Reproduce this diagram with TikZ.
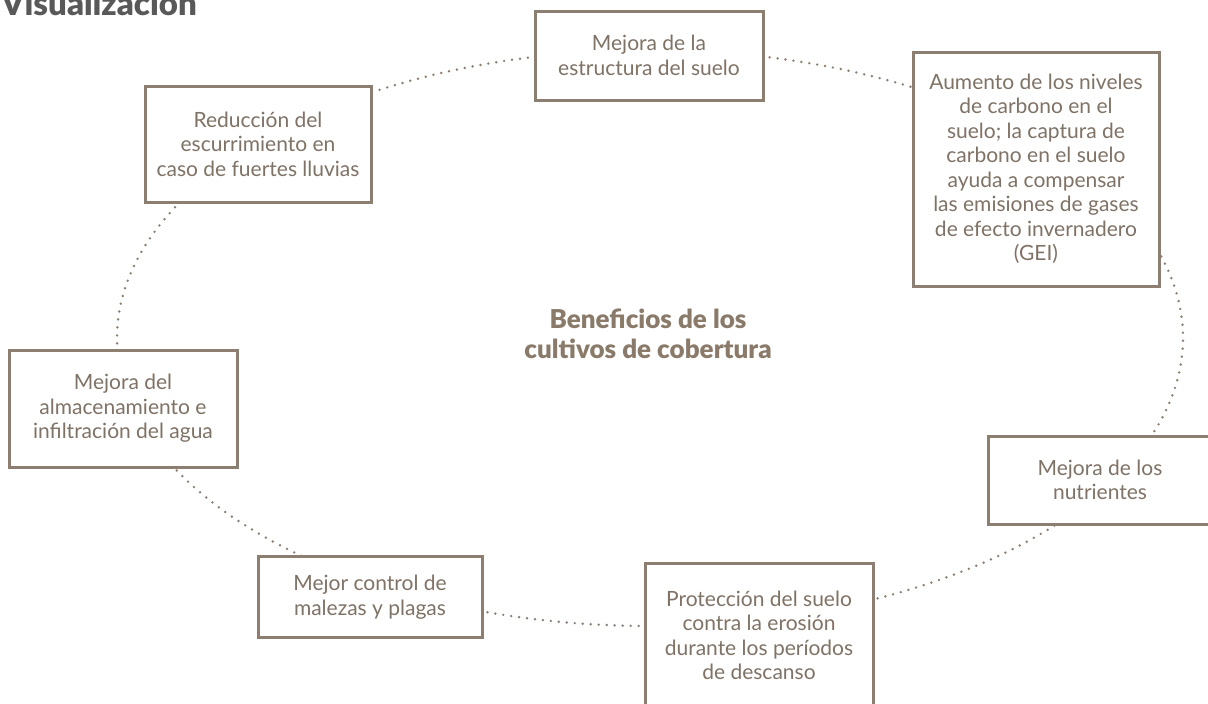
\documentclass[tikz,border=0pt]{standalone}
\usepackage{fontspec}
\setmainfont{Lato}
\newfontfamily\heavy{Lato Black}
\usetikzlibrary{calc}
\definecolor{boxc}{HTML}{8C7E71}
\definecolor{txtc}{HTML}{7F7266}
\definecolor{ttlc}{HTML}{8A7A6A}
\definecolor{headc}{HTML}{595959}
\begin{document}
\begin{tikzpicture}[x=1pt,y=1pt,
  benefit/.style={draw=boxc, line width=3pt, fill=white, text=txtc, align=center,
    font=\fontsize{21}{24.5}\selectfont, inner sep=0pt},
  link/.style={draw=boxc, line width=2.7pt, line cap=round, dash pattern=on 0pt off 8pt}]
\useasboundingbox (0,0) rectangle (1208,-704);
\clip (0,0) rectangle (1208,-704);
\coordinate (C) at (650,-338);
\foreach \n/\a in {pE/90, pA/45, pN/-30, pP/-80, pM/-120, pL/-165, pR/-220}
  \coordinate (\n) at ($(C)+(\a:533pt and 288pt)$);
% connectors (arcs of the cycle)
\draw[link] (pE) arc[start angle=90, end angle=45, x radius=533pt, y radius=288pt];
\draw[link] (pA) arc[start angle=45, end angle=-30, x radius=533pt, y radius=288pt];
\draw[link] (pN) arc[start angle=-30, end angle=-80, x radius=533pt, y radius=288pt];
\draw[link] (pP) arc[start angle=-80, end angle=-120, x radius=533pt, y radius=288pt];
\draw[link] (pM) arc[start angle=-120, end angle=-165, x radius=533pt, y radius=288pt];
\draw[link] (pL) arc[start angle=-165, end angle=-220, x radius=533pt, y radius=288pt];
\draw[link] (pR) arc[start angle=140, end angle=90, x radius=533pt, y radius=288pt];
% boxes
\node[benefit, minimum width=228pt, minimum height=89pt] (estr) at (649,-55.5)
  {Mejora de la\\estructura del suelo};
\node[benefit, minimum width=246pt, minimum height=234pt] (aum) at (1036,-169)
  {Aumento de los niveles\\de carbono en el\\suelo; la captura de\\carbono en el suelo\\ayuda a compensar\\las emisiones de gases\\de efecto invernadero\\(GEI)};
\node[benefit, minimum width=224pt, minimum height=88pt] (nutr) at (1100,-480)
  {Mejora de los\\nutrientes};
\node[benefit, minimum width=228pt, minimum height=145pt] (prot) at (759,-635.5)
  {Protección del suelo\\contra la erosión\\durante los períodos\\de descanso};
\node[benefit, minimum width=224pt, minimum height=81pt] (malez) at (370,-597)
  {Mejor control de\\malezas y plagas};
\node[benefit, minimum width=228pt, minimum height=117pt] (almac) at (123,-408.5)
  {Mejora del\\almacenamiento e\\infiltración del agua};
\node[benefit, minimum width=226pt, minimum height=116pt] (reduc) at (258,-144)
  {Reducción del\\escurrimiento en\\caso de fuertes lluvias};
% titles
\node[anchor=base west, inner sep=0pt, text=headc, font=\fontsize{33}{33}\selectfont\heavy] (head) at (1,-15) {Visualización};
\node[align=center, inner sep=0pt, text=ttlc, font=\fontsize{26}{30}\selectfont\heavy] (ctr) at (648,-334)
  {Beneficios de los\\cultivos de cobertura};
\end{tikzpicture}
\end{document}
